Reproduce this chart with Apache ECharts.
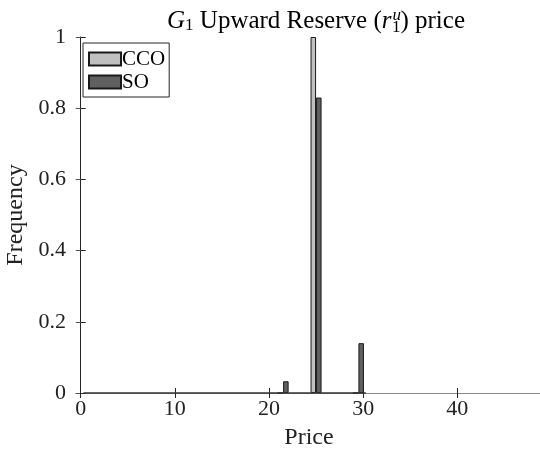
<!DOCTYPE html>
<html>
<head>
<meta charset="utf-8">
<script src="https://cdn.jsdelivr.net/npm/echarts@6/dist/echarts.min.js"></script>
<style>html,body{margin:0;padding:0;background:#fff}#c{width:540px;height:452px}</style>
</head>
<body>
<div id="c"></div>
<script>
// Data
const binCenters = [21.5, 25, 29.5];
const ccoFreq = [0, 1.0, 0];
const soFreq = [0.033, 0.83, 0.14];
const zeroBinRange = [0, 30]; // span of empty (zero-height) bins drawn along the baseline
const xTicks = [0, 10, 20, 30, 40];
const yTicks = [0, 0.2, 0.4, 0.6, 0.8, 1];

const FONT = '"Liberation Serif", "DejaVu Serif", serif';
const AX = '#262626';

const chart = echarts.init(document.getElementById('c'), null, {renderer: 'canvas'});
chart.setOption({
  animation: false,
  backgroundColor: '#fff',
  title: {
    text: '{it|G}{sub|1}{n| Upward Reserve (}{it|r}{sup|u}{sub2|1}{n|) price}',
    left: 311, top: 1, textAlign: 'center',
    textStyle: {
      fontWeight: 'normal',
      rich: {
        n: {fontFamily: FONT, fontSize: 25, fontWeight: 'normal', color: '#000'},
        it: {fontFamily: FONT, fontSize: 25, fontStyle: 'italic', fontWeight: 'normal', color: '#000'},
        sub: {fontFamily: FONT, fontSize: 17, fontWeight: 'normal', color: '#000', padding: [10, 0, 0, 0]},
        sup: {fontFamily: FONT, fontSize: 17, fontStyle: 'italic', fontWeight: 'normal', color: '#000', padding: [0, 0, 10, 1]},
        sub2: {fontFamily: FONT, fontSize: 17, fontWeight: 'normal', color: '#000', padding: [13, 0, 0, -9]}
      }
    }
  },
  legend: {
    orient: 'vertical',
    left: 83, top: 43,
    itemWidth: 32, itemHeight: 13, itemGap: 1,
    padding: [5, 4, 4, 5],
    borderColor: AX, borderWidth: 1, backgroundColor: '#fff',
    icon: 'rect',
    textStyle: {fontFamily: FONT, fontSize: 21, lineHeight: 22, color: '#000', padding: [0, 0, 0, -4]},
    data: ['CCO', 'SO']
  },
  grid: {left: 76, right: -2, top: 37, bottom: 59, containLabel: false, outerBoundsMode: 'none'},
  xAxis: [{
    type: 'value', min: -0.5, max: 49, position: 'bottom',
    name: 'Price', nameLocation: 'middle', nameGap: 33,
    nameTextStyle: {fontFamily: FONT, fontSize: 24, color: '#222'},
    axisLine: {show: true, onZero: false, lineStyle: {color: '#8a8a8a', width: 1}},
    axisTick: {show: true, inside: true, length: 5, customValues: xTicks, lineStyle: {color: AX}},
    axisLabel: {customValues: xTicks, fontFamily: FONT, fontSize: 22, color: '#222', margin: 5},
    splitLine: {show: false}
  }, {
    type: 'value', min: -0.5, max: 49, position: 'top',
    axisLine: {show: true, lineStyle: {color: '#8a8a8a', width: 1}},
    axisTick: {show: true, inside: true, length: 5, customValues: xTicks, lineStyle: {color: AX}},
    axisLabel: {show: false},
    splitLine: {show: false}
  }],
  yAxis: [{
    type: 'value', min: 0, max: 1, interval: 0.2,
    name: 'Frequency', nameLocation: 'middle', nameGap: 45,
    nameTextStyle: {fontFamily: FONT, fontSize: 24, color: '#222'},
    axisLine: {show: true, lineStyle: {color: AX, width: 1}},
    axisTick: {show: true, inside: true, length: 5, lineStyle: {color: AX}},
    axisLabel: {fontFamily: FONT, fontSize: 22, color: '#222', margin: 10,
      formatter: v => String(+v.toFixed(1))},
    splitLine: {show: false}
  }, {
    type: 'value', min: 0, max: 1, interval: 0.2, position: 'right',
    axisLine: {show: false},
    axisTick: {show: true, inside: true, length: 5, lineStyle: {color: '#555'}},
    axisLabel: {show: false},
    splitLine: {show: false}
  }],
  series: [{
    name: 'CCO', type: 'bar', barWidth: 5.5, barGap: '0%',
    data: binCenters.map((x, i) => [x, ccoFreq[i]]),
    itemStyle: {color: '#c0c0c0', borderColor: '#1a1a1a', borderWidth: 1}
  }, {
    name: 'SO', type: 'bar', barWidth: 5.5, barGap: '0%',
    data: binCenters.map((x, i) => [x, soFreq[i]]),
    itemStyle: {color: '#606060', borderColor: '#1a1a1a', borderWidth: 1},
    markLine: {
      silent: true, symbol: 'none', label: {show: false},
      lineStyle: {color: '#333', width: 1.5, type: 'solid'},
      data: [[{coord: [zeroBinRange[0], 0]}, {coord: [zeroBinRange[1], 0]}]]
    }
  }]
});
</script>
</body>
</html>
